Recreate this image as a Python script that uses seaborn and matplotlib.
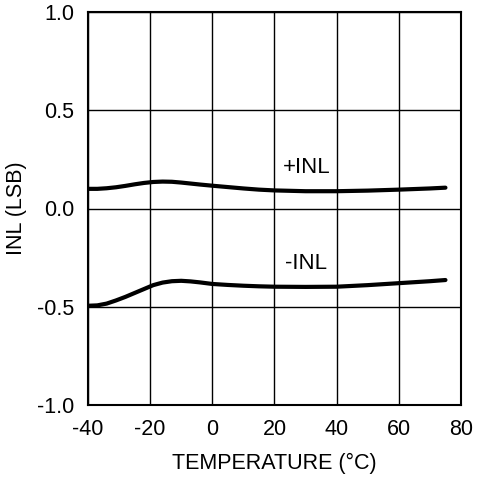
import matplotlib
matplotlib.use("Agg")
import matplotlib.pyplot as plt
import seaborn as sns
import pandas as pd

temps = [-40, -37, -34, -31, -28, -25, -22, -19, -16, -13, -10, -7, -4, 0, 5, 10, 15, 20, 30, 40, 50, 60, 70, 75]
pos_inl = [0.100, 0.100, 0.103, 0.108, 0.115, 0.123, 0.130, 0.135, 0.137, 0.136, 0.132, 0.127, 0.122, 0.116, 0.109, 0.102, 0.096, 0.092, 0.088, 0.088, 0.091, 0.096, 0.102, 0.106]
neg_inl = [-0.495, -0.493, -0.484, -0.468, -0.450, -0.430, -0.410, -0.390, -0.377, -0.370, -0.368, -0.371, -0.376, -0.384, -0.389, -0.393, -0.396, -0.398, -0.399, -0.398, -0.390, -0.380, -0.370, -0.364]
series_names = ["+INL", "-INL"]
x_ticks = [-40, -20, 0, 20, 40, 60, 80]
y_ticks = [-1.0, -0.5, 0.0, 0.5, 1.0]

df = pd.concat([
    pd.DataFrame({"T": temps, "INL": pos_inl, "s": series_names[0]}),
    pd.DataFrame({"T": temps, "INL": neg_inl, "s": series_names[1]}),
])

sns.set_theme(style="white")
plt.rcParams['font.family'] = ['Liberation Sans', 'DejaVu Sans']

fig = plt.figure(figsize=(4.8, 4.8), dpi=100)
ax = fig.add_axes([0.1833, 0.15625, 0.9604 - 0.1833, 0.975 - 0.15625])

sns.lineplot(data=df, x="T", y="INL", units="s", estimator=None, color="black",
             linewidth=3.0, ax=ax, legend=False)

ax.set_xlim(-40, 80)
ax.set_ylim(-1.0, 1.0)
ax.set_xticks(x_ticks)
ax.set_yticks(y_ticks)
ax.set_xticklabels([str(v) for v in x_ticks])
ax.set_yticklabels([f"{v:.1f}" for v in y_ticks])
ax.grid(True, color="black", linewidth=1.0)
ax.set_axisbelow(True)
for sp in ax.spines.values():
    sp.set_color("black")
    sp.set_linewidth(1.5)
ax.tick_params(axis="both", length=0, pad=10, labelsize=15.5, colors="black")
ax.set_xlabel("TEMPERATURE (°C)", fontsize=15.5, color="black", labelpad=9)
ax.set_ylabel("INL (LSB)", fontsize=15.5, color="black", labelpad=7)

ax.text(30.5, 0.21, series_names[0], fontsize=16, ha="center", va="center", color="black")
ax.text(30, -0.28, series_names[1], fontsize=16, ha="center", va="center", color="black")

fig.savefig("out.png", dpi=100)
